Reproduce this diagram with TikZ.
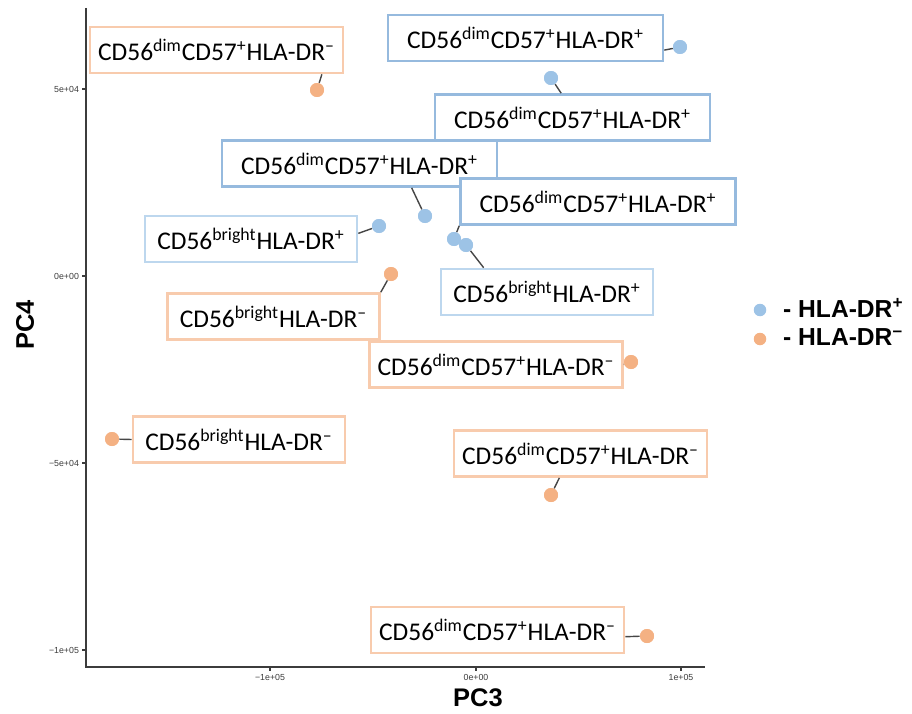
\documentclass[tikz,border=0pt]{standalone}
\usepackage{fontspec}
\setmainfont{Carlito}
\newfontfamily\arialfont{Liberation Sans}

\definecolor{dotblue}{RGB}{157,195,230}
\definecolor{dotorange}{RGB}{244,177,131}
\definecolor{edgeblue}{RGB}{150,186,222}
\definecolor{edgelight}{RGB}{189,215,238}
\definecolor{edgeorange}{RGB}{248,203,173}
\definecolor{axisgray}{RGB}{60,60,60}
\definecolor{linkgray}{RGB}{70,70,70}

\newcommand{\cdimlab}[1]{CD56\textsuperscript{dim}CD57\textsuperscript{+}HLA-DR\textsuperscript{#1}}
\newcommand{\cbrightlab}[1]{CD56\textsuperscript{bright}HLA-DR\textsuperscript{#1}}

\begin{document}
\begin{tikzpicture}[
    x=0.02cm, y=-0.02cm,
    box/.style={rectangle, draw, line width=1.5pt, fill=white, minimum height=0.92cm, text centered, font=\fontsize{14.5}{17}\selectfont},
    negbox/.style={box, draw=edgeorange, minimum width=5.06cm},
    posbox/.style={box, draw=edgeblue, minimum width=5.5cm},
    brightbox/.style={box, minimum width=4.24cm},
    pt/.style={circle, inner sep=0pt, minimum size=0.28cm},
    link/.style={draw=linkgray, line width=0.8pt},
    axis/.style={draw=axisgray, line width=0.9pt},
    ticklab/.style={font=\arialfont\fontsize{5}{6}\selectfont, text=axisgray, inner sep=1pt},
    axlab/.style={font=\arialfont\bfseries\fontsize{14.5}{16}\selectfont}
]
    \useasboundingbox (0,0) rectangle (912,713);

    % Axes
    \draw[axis] (86,8) -- (86,667) -- (705,667);
    \foreach \yy/\txt [count=\i] in {89/5e+04, 276/0e+00, 463/−5e+04, 650/−1e+05} {
        \draw[axis] (82,\yy) -- (86,\yy);
        \node[ticklab, anchor=east] (ytick\i) at (81,\yy) {\txt};
    }
    \foreach \xx/\txt [count=\i] in {270/−1e+05, 476/0e+00, 681/1e+05} {
        \draw[axis] (\xx,667) -- (\xx,671);
        \node[ticklab, anchor=north] (xtick\i) at (\xx,672) {\txt};
    }
    \node[axlab, rotate=90] (pcfour) at (25,325) {PC4};
    \node[axlab] (pcthree) at (478,698) {PC3};

    % Points
    \node[pt, fill=dotorange] (p1) at (317,90) {};
    \node[pt, fill=dotorange] (p2) at (391,274) {};
    \node[pt, fill=dotorange] (p3) at (112,439) {};
    \node[pt, fill=dotorange] (p4) at (631,362) {};
    \node[pt, fill=dotorange] (p11) at (551,495) {};
    \node[pt, fill=dotorange] (p12) at (647,636) {};
    \node[pt, fill=dotblue] (p5) at (680,47) {};
    \node[pt, fill=dotblue] (p6) at (551,78) {};
    \node[pt, fill=dotblue] (p7) at (425,216) {};
    \node[pt, fill=dotblue] (p8) at (379,226) {};
    \node[pt, fill=dotblue] (p9) at (454,239) {};
    \node[pt, fill=dotblue] (p10) at (466,245) {};

    % Labels, HLA-DR-
    \node[negbox] (lab1) at (216.5,50) {\cdimlab{–}};
    \node[negbox, brightbox] (lab2) at (273.5,316.5) {\cbrightlab{–}};
    \node[negbox, brightbox] (lab3) at (239,439.5) {\cbrightlab{–}};
    \node[negbox] (lab4) at (496,364.5) {\cdimlab{–}};
    \node[negbox] (lab11) at (580.5,453.5) {\cdimlab{–}};
    \node[negbox] (lab12) at (497.5,630) {\cdimlab{–}};

    % Labels, HLA-DR+
    \node[posbox] (lab5) at (525.5,38) {\cdimlab{+}};
    \node[posbox] (lab6) at (572.5,117.5) {\cdimlab{+}};
    \node[posbox] (lab7) at (359.5,163.5) {\cdimlab{+}};
    \node[posbox, brightbox, draw=edgelight] (lab8) at (251,239) {\cbrightlab{+}};
    \node[posbox] (lab9) at (598,201.5) {\cdimlab{+}};
    \node[posbox, brightbox, draw=edgelight] (lab10) at (547,292) {\cbrightlab{+}};

    % Connectors
    \draw[link] (lab1.347) -- (p1);
    \draw[link] (lab2.north east) -- (p2);
    \draw[link] (lab3.west) -- (p3);
    \draw[link] (lab4.east) -- (p4);
    \draw[link] (lab11.229) -- (p11);
    \draw[link] (lab12.357) -- (p12);
    \draw[link] (lab5.355) -- (p5);
    \draw[link] (lab6.115) -- (p6);
    \draw[link] (lab7.335) -- (p7);
    \draw[link] (lab8.3) -- (p8);
    \draw[link] (lab9.south west) -- (p9);
    \draw[link] (lab10.159) -- (p10);

    % Points on top of connectors
    \foreach \p in {p1,p2,p3,p4,p11,p12} \fill[dotorange] (\p) circle (0.14cm);
    \foreach \p in {p5,p6,p7,p8,p9,p10} \fill[dotblue] (\p) circle (0.14cm);

    % Legend
    \node[pt, minimum size=0.25cm, fill=dotblue] (keypos) at (760,310) {};
    \node[pt, minimum size=0.25cm, fill=dotorange] (keyneg) at (760,339) {};
    \node[anchor=west, font=\arialfont\bfseries\fontsize{14}{16}\selectfont] (keypostxt) at (777,308) {- HLA-DR\textsuperscript{+}};
    \node[anchor=west, font=\arialfont\bfseries\fontsize{14}{16}\selectfont] (keynegtxt) at (777,337) {- HLA-DR\textsuperscript{–}};

\end{tikzpicture}
\end{document}
